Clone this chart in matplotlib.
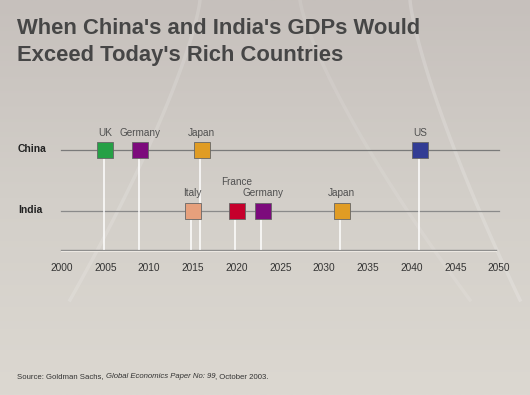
"""
Timeline: when China's and India's GDPs would exceed today's rich countries
"""

import numpy as np
import matplotlib
matplotlib.use('Agg')
import matplotlib.pyplot as plt

# Data (years)
china_countries = ['UK', 'Germany', 'Japan', 'US']
china_years = [2005, 2009, 2016, 2041]
china_colors = ['#26a046', '#7c0a7c', '#e09c24', '#323c94']

india_countries = ['Italy', 'France', 'Germany', 'Japan']
india_years = [2015, 2020, 2023, 2032]
india_colors = ['#e6a07c', '#c6002c', '#7c0a7c', '#e09c24']

tick_years = [2000, 2005, 2010, 2015, 2020, 2025, 2030, 2035, 2040, 2045, 2050]

W, H = 530, 395
fig = plt.figure(figsize=(W / 100, H / 100), dpi=100)

# Background gradient with a few faint light streaks
bg = fig.add_axes([0, 0, 1, 1])
grad = np.linspace(0, 1, 256).reshape(-1, 1)
cmap = matplotlib.colors.LinearSegmentedColormap.from_list('bg', ['#c6c0bc', '#d3cfc9', '#dcd8d1'])
bg.imshow(grad, aspect='auto', cmap=cmap, extent=[0, W, H, 0])
t = np.linspace(0, 1, 100)
for x0, x1, a in [(200, 70, 0.15), (410, 520, 0.18), (300, 470, 0.1)]:
    bg.plot(x0 + (x1 - x0) * t ** 1.3, t * 300, color='white', lw=2.5, alpha=a)
bg.set_xlim(0, W)
bg.set_ylim(H, 0)
bg.axis('off')

# Timeline axes, pixel-like vertical units
ax = fig.add_axes([0, 0, 1, 1])
ax.patch.set_alpha(0)
px_per_year = 8.75
x_left = 2000 - 61.5 / px_per_year
ax.set_xlim(x_left, x_left + W / px_per_year)
ax.set_ylim(H, 0)
ax.axis('off')

china_y, india_y, base_y = 150, 211, 250
x_start = 2000 - 0.1
x_end = 2050

ax.plot([x_start, x_end], [china_y, china_y], color='#7a7a7a', lw=0.9, zorder=2)
ax.plot([x_start, x_end], [india_y, india_y], color='#8a8a8a', lw=0.9, zorder=2)
ax.plot([x_start, x_end - 0.3], [base_y, base_y], color='#8a8a8a', lw=1.0, zorder=2)
ax.plot([x_start, x_end - 0.3], [base_y + 1.3, base_y + 1.3], color='#ece8e2', lw=0.8, zorder=2)

for yr in tick_years:
    ax.text(yr, 268, str(yr), ha='center', va='center', fontsize=7.3,
            color='#333333', family='Liberation Sans')

ax.text(x_left + 18 / px_per_year, china_y - 1, 'China', ha='left', va='center',
        fontsize=7.5, fontweight='bold', color='#222222', family='Liberation Sans')
ax.text(x_left + 18 / px_per_year, india_y - 1, 'India', ha='left', va='center',
        fontsize=7.5, fontweight='bold', color='#222222', family='Liberation Sans')

# China markers
for name, yr, c in zip(china_countries, china_years, china_colors):
    ax.plot([yr - 0.2, yr - 0.2], [china_y, base_y - 1], color='white', lw=1.2, alpha=0.9, zorder=3)
    ax.plot(yr, china_y, marker='s', markersize=11, color=c, markeredgecolor='#666666',
            markeredgewidth=0.6, zorder=5)
    ax.text(yr, china_y - 17, name, ha='center', va='center', fontsize=7.2,
            color='#505050', family='Liberation Sans')

# India markers; France label sits higher
for name, yr, c in zip(india_countries, india_years, india_colors):
    ax.plot([yr - 0.2, yr - 0.2], [india_y, base_y - 1], color='white', lw=1.2, alpha=0.9, zorder=3)
    ax.plot(yr, india_y, marker='s', markersize=11, color=c, markeredgecolor='#666666',
            markeredgewidth=0.6, zorder=5)
    dy = 29 if name == 'France' else 18
    ax.text(yr, india_y - dy, name, ha='center', va='center', fontsize=7.2,
            color='#505050', family='Liberation Sans')

# Title
fig.text(17 / W, 1 - 28 / H, "When China's and India's GDPs Would", ha='left', va='center',
         fontsize=15.8, fontweight='bold', color='#464646', family='Liberation Sans')
fig.text(17 / W, 1 - 55 / H, "Exceed Today's Rich Countries", ha='left', va='center',
         fontsize=15.8, fontweight='bold', color='#464646', family='Liberation Sans')

# Source line with italic paper title
parts = [('Source: Goldman Sachs, ', 'normal'),
         ('Global Economics Paper No: 99', 'italic'),
         (', October 2003.', 'normal')]
renderer = fig.canvas.get_renderer()
x = 17
for s, style in parts:
    tx = fig.text(x / W, 1 - 378 / H, s, ha='left', va='baseline', fontsize=5.6,
                  style=style, color='#333333', family='Liberation Sans')
    x += tx.get_window_extent(renderer=renderer).width

fig.savefig('out.png', dpi=100)
